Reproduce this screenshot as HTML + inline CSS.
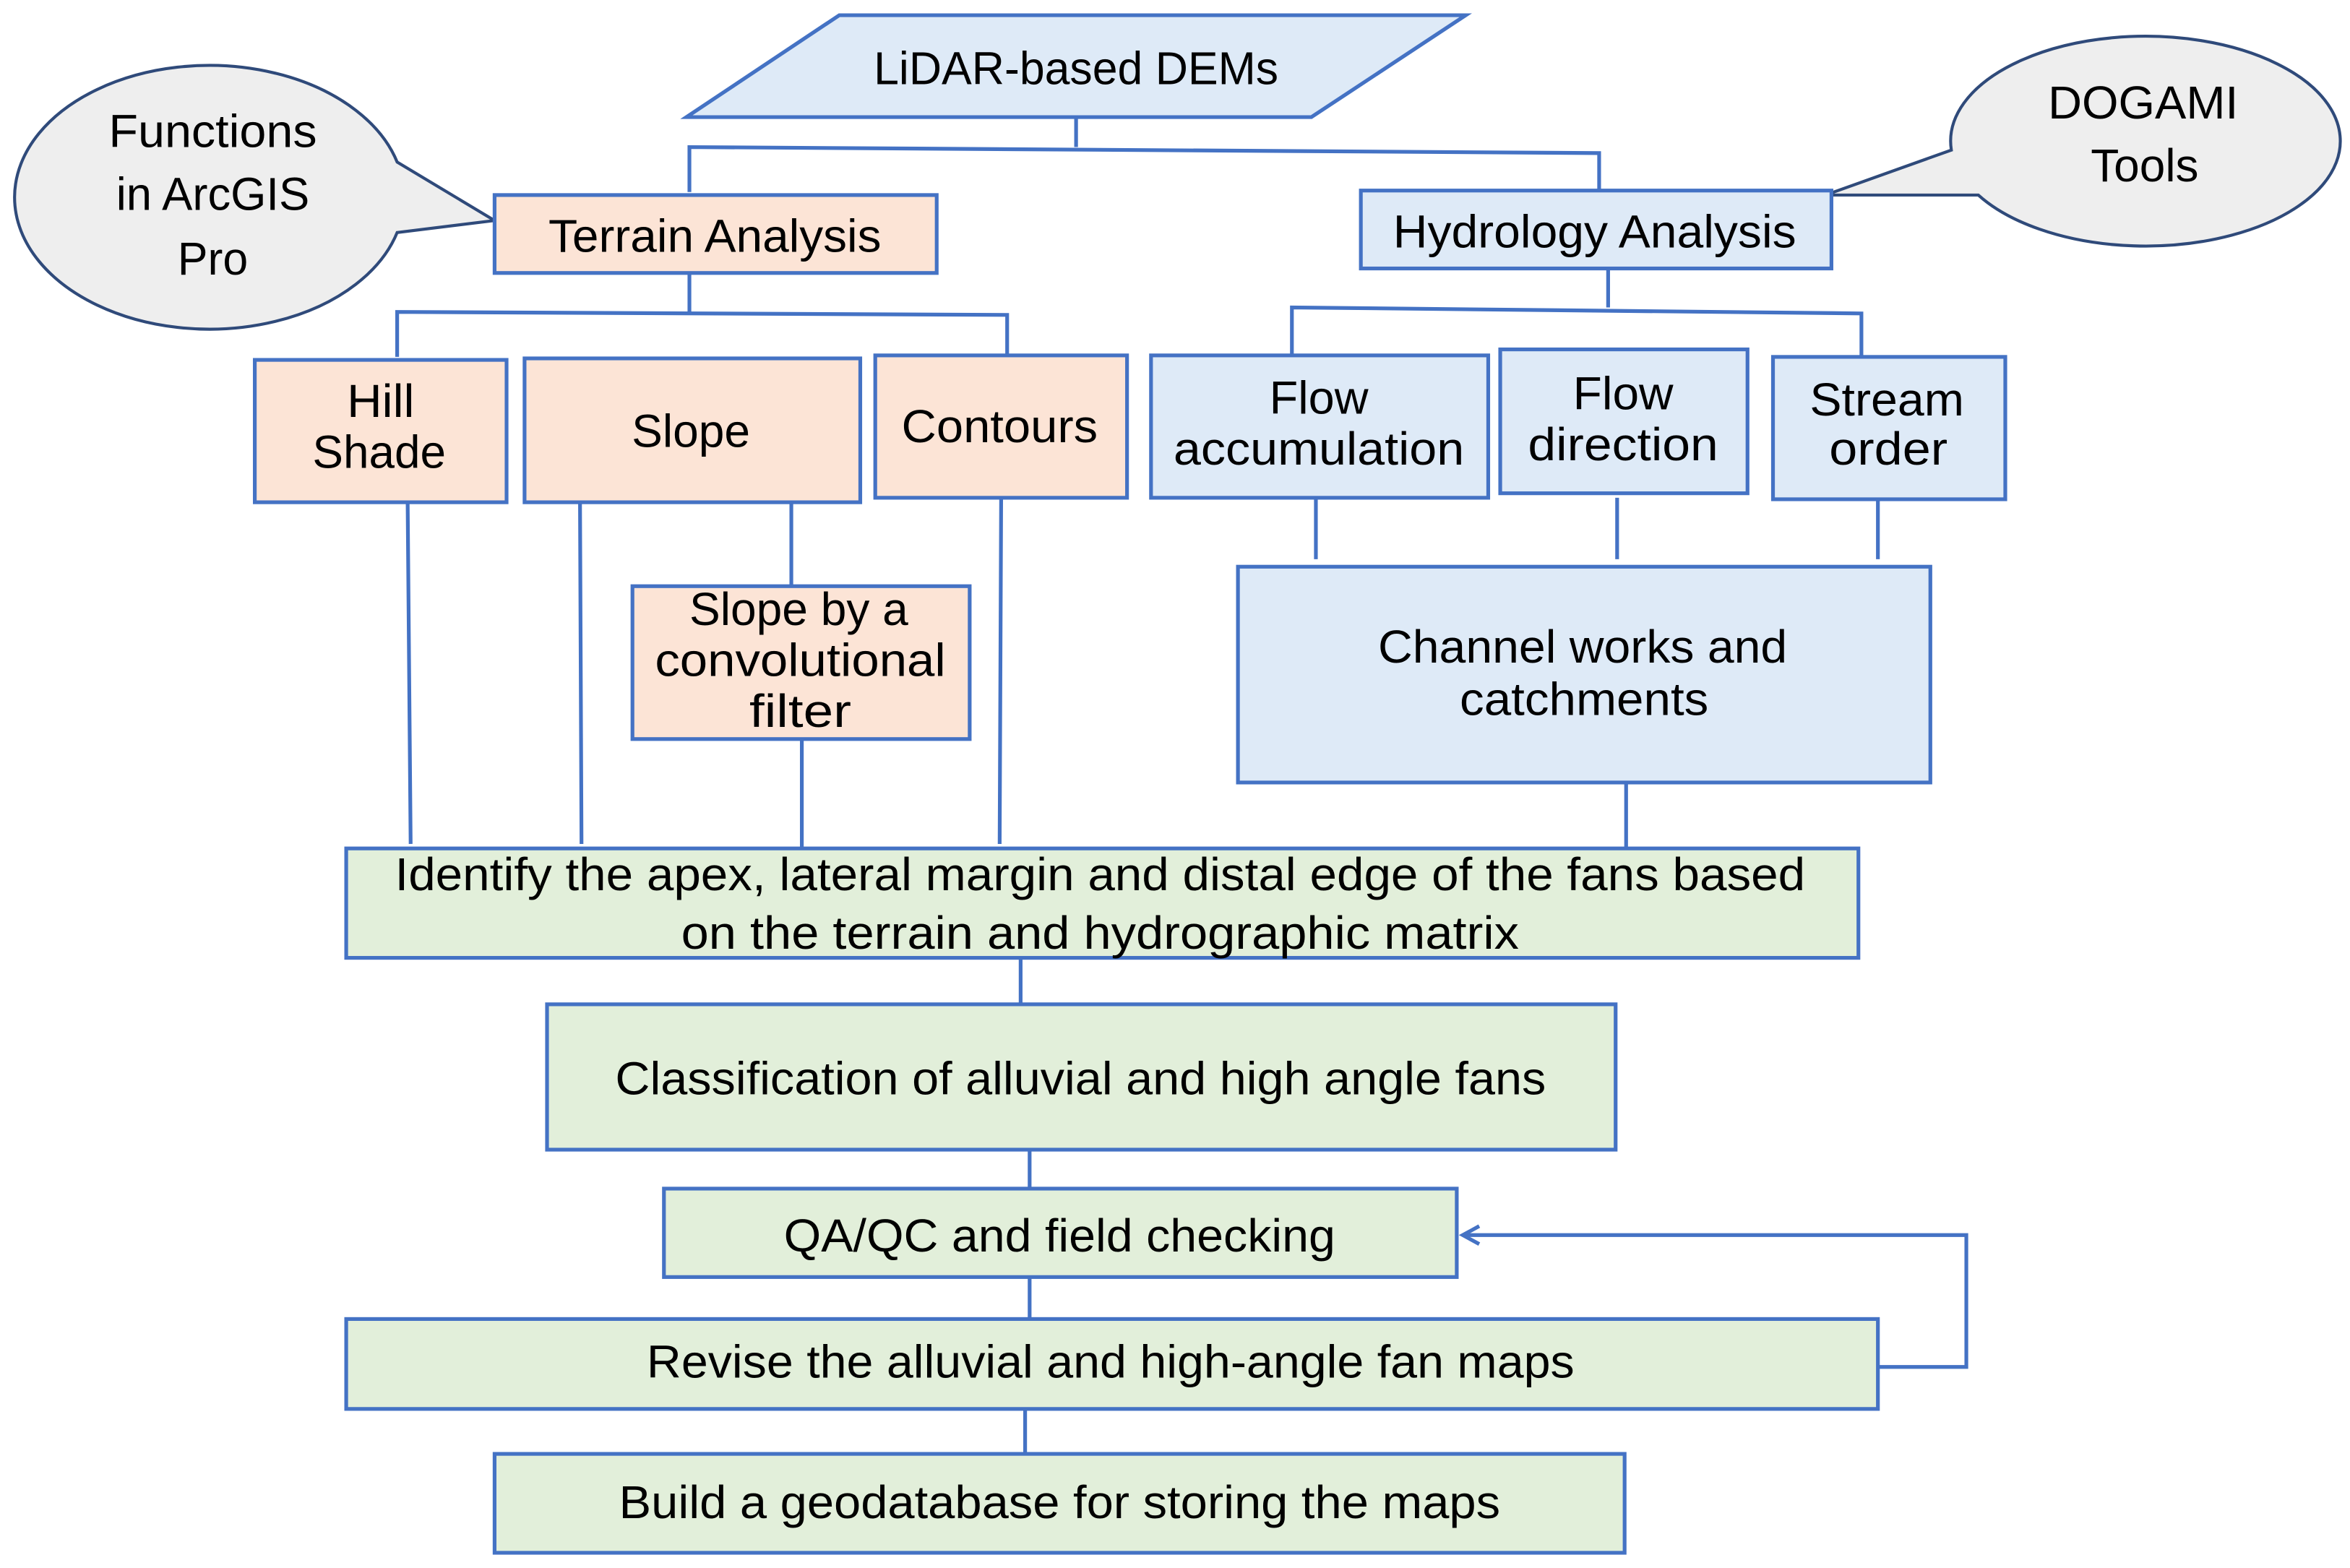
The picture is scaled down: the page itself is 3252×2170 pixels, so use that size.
<!DOCTYPE html>
<html><head><meta charset="utf-8"><style>
html,body{margin:0;padding:0;background:#fff;}
svg{display:block;}
text{font-family:"Liberation Sans",sans-serif;font-size:31px;fill:#000;text-anchor:middle;}
</style></head><body>
<svg width="3252" height="2170" viewBox="0 0 1568 1046" xmlns="http://www.w3.org/2000/svg">
<defs><marker id="ah" markerWidth="16" markerHeight="16" refX="12" refY="7" orient="auto" markerUnits="userSpaceOnUse"><path d="M1,1 L12,7 L1,13" fill="none" stroke="#4472c4" stroke-width="2.5"/></marker></defs>
<g fill="none" stroke="#4472c4" stroke-width="2.5">
<path d="M718,78 V98 M460,128 V98 L1067,102 V127"/>
<path d="M460,182 V208 M265,238 V208 L672,210 V237"/>
<path d="M1073,179 V205 M862,237 V205 L1242,209 V238"/>
<path d="M878,332 V373 M1079,332 V373 M1253,333 V373 M1085,522 V565"/>
<path d="M528,335 V391 M535,493 V565 M272,335 L274,563 M387,335 L388,563 M668,332 L667,563"/>
<path d="M681,639 V670 M687,767 V793 M687,852 V880 M684,940 V970"/>
<path d="M1253,912 H1312 V824 H976" marker-end="url(#ah)"/>
</g>
<g stroke="#2f4a7a" stroke-width="2" fill="#eeeeee">
<path d="M265,108 A130,88 0 1 0 265,155 L330,147 Z"/>
<path d="M1302,100 A130,70 0 1 1 1320,130 L1218,130 Z"/>
</g>
<g stroke="#4472c4" stroke-width="2.5">
<polygon points="560,10 978,10 875,78 458,78" fill="#deeaf7"/>
<rect x="330" y="130" width="295" height="52" fill="#fce4d6"/>
<rect x="908" y="127" width="314" height="52" fill="#deeaf7"/>
<rect x="170" y="240" width="168" height="95" fill="#fce4d6"/>
<rect x="350" y="239" width="224" height="96" fill="#fce4d6"/>
<rect x="584" y="237" width="168" height="95" fill="#fce4d6"/>
<rect x="768" y="237" width="225" height="95" fill="#deeaf7"/>
<rect x="1001" y="233" width="165" height="96" fill="#deeaf7"/>
<rect x="1183" y="238" width="155" height="95" fill="#deeaf7"/>
<rect x="826" y="378" width="462" height="144" fill="#deeaf7"/>
<rect x="422" y="391" width="225" height="102" fill="#fce4d6"/>
<rect x="231" y="566" width="1009" height="73" fill="#e2efda"/>
<rect x="365" y="670" width="713" height="97" fill="#e2efda"/>
<rect x="443" y="793" width="529" height="59" fill="#e2efda"/>
<rect x="231" y="880" width="1022" height="60" fill="#e2efda"/>
<rect x="330" y="970" width="754" height="66" fill="#e2efda"/>
</g>
<g lengthAdjust="spacingAndGlyphs">
<text x="718" y="56" textLength="270" lengthAdjust="spacingAndGlyphs">LiDAR-based DEMs</text>
<text x="142" y="98" textLength="139" lengthAdjust="spacingAndGlyphs">Functions</text>
<text x="142" y="140" textLength="129" lengthAdjust="spacingAndGlyphs">in ArcGIS</text>
<text x="142" y="183" textLength="47" lengthAdjust="spacingAndGlyphs">Pro</text>
<text x="1430" y="79" textLength="127" lengthAdjust="spacingAndGlyphs">DOGAMI</text>
<text x="1431" y="121" textLength="72" lengthAdjust="spacingAndGlyphs">Tools</text>
<text x="477" y="168" textLength="222" lengthAdjust="spacingAndGlyphs">Terrain Analysis</text>
<text x="1064" y="165" textLength="269" lengthAdjust="spacingAndGlyphs">Hydrology Analysis</text>
<text x="254" y="278" textLength="45" lengthAdjust="spacingAndGlyphs">Hill</text>
<text x="253" y="312" textLength="89" lengthAdjust="spacingAndGlyphs">Shade</text>
<text x="461" y="298" textLength="79" lengthAdjust="spacingAndGlyphs">Slope</text>
<text x="667" y="295" textLength="131" lengthAdjust="spacingAndGlyphs">Contours</text>
<text x="880" y="276" textLength="66" lengthAdjust="spacingAndGlyphs">Flow</text>
<text x="880" y="310" textLength="194" lengthAdjust="spacingAndGlyphs">accumulation</text>
<text x="1083" y="273" textLength="67" lengthAdjust="spacingAndGlyphs">Flow</text>
<text x="1083" y="307" textLength="127" lengthAdjust="spacingAndGlyphs">direction</text>
<text x="1259" y="277" textLength="103" lengthAdjust="spacingAndGlyphs">Stream</text>
<text x="1260" y="310" textLength="79" lengthAdjust="spacingAndGlyphs">order</text>
<text x="533" y="417" textLength="146" lengthAdjust="spacingAndGlyphs">Slope by a</text>
<text x="534" y="451" textLength="194" lengthAdjust="spacingAndGlyphs">convolutional</text>
<text x="534" y="485" textLength="68" lengthAdjust="spacingAndGlyphs">filter</text>
<text x="1056" y="442" textLength="273" lengthAdjust="spacingAndGlyphs">Channel works and</text>
<text x="1057" y="477" textLength="166" lengthAdjust="spacingAndGlyphs">catchments</text>
<text x="734" y="594" textLength="941" lengthAdjust="spacingAndGlyphs">Identify the apex, lateral margin and distal edge of the fans based</text>
<text x="734" y="633" textLength="559" lengthAdjust="spacingAndGlyphs">on the terrain and hydrographic matrix</text>
<text x="721" y="730" textLength="621" lengthAdjust="spacingAndGlyphs">Classification of alluvial and high angle fans</text>
<text x="707" y="835" textLength="368" lengthAdjust="spacingAndGlyphs">QA/QC and field checking</text>
<text x="741" y="919" textLength="619" lengthAdjust="spacingAndGlyphs">Revise the alluvial and high-angle fan maps</text>
<text x="707" y="1013" textLength="588" lengthAdjust="spacingAndGlyphs">Build a geodatabase for storing the maps</text>
</g>
</svg>
</body></html>
